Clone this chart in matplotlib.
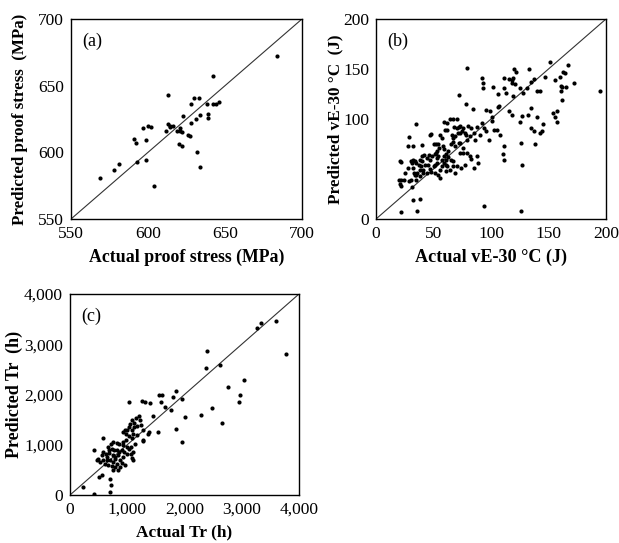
import matplotlib
matplotlib.use("Agg")
import matplotlib.pyplot as plt
import numpy as np

# (a) proof stress, MPa
a_actual = [684, 642, 613, 630, 633, 628, 638, 642, 644, 646, 639, 639, 634, 631, 623, 628,
            597, 600, 602, 613, 614, 616, 614, 612, 619, 621, 621, 622, 626, 627,
            591, 592, 599, 620, 622, 632, 634, 593, 599, 581, 578, 569, 604]
a_pred = [672, 657, 643, 641, 641, 636, 636, 636, 636, 638, 629, 626, 628, 625, 627, 622,
          618, 620, 619, 621, 620, 620, 619, 616, 616, 618, 616, 615, 613, 612,
          610, 607, 609, 606, 605, 600, 589, 593, 594, 591, 587, 581, 575]

# (b) vE-30 C, J
b_actual = [79, 92, 93, 93, 102, 111, 111, 116, 118, 119, 120, 122, 118, 121, 106, 113, 119, 125, 128, 131,
            133, 135, 137, 140, 143, 147, 151, 156, 160, 163, 164, 167, 172, 161, 162, 165, 161, 162, 195,
            72, 78, 84, 96, 99, 101, 106, 107, 116, 118, 127, 132, 135, 140, 157, 156, 157, 154, 145, 135,
            137, 143, 144, 138, 125, 126, 127, 111, 110, 111, 103, 105, 108, 101, 92, 94, 96, 98, 90, 88,
            83, 85, 86,
            64, 67, 70, 68, 70, 72, 73, 75, 76, 77, 78, 79, 82, 80, 73, 71, 69, 67, 66, 62, 60, 62, 59, 56,
            57, 54, 52, 50, 48, 47, 40, 40, 42, 44, 46, 47, 49, 51, 52, 53, 55, 58, 59, 61, 63, 65, 67, 63,
            65, 67, 69, 72, 73, 76, 79, 82, 83, 85, 89, 88, 77, 74, 69, 62, 61, 57, 56, 56, 53, 51, 50, 45,
            43, 41, 39, 38, 36, 35, 33, 32, 31, 30, 32, 34, 35, 37, 38, 40, 28, 25, 22, 21, 20, 22, 24, 30,
            29, 28, 32, 35, 29, 38, 41, 44, 47, 48, 51, 54, 59, 64, 61, 67, 70, 73, 76, 54, 53, 57, 59, 61,
            22, 21, 31, 34, 35, 32, 38, 36, 22, 94, 126]
b_pred = [151, 141, 136, 131, 132, 141, 131, 140, 139, 141, 150, 147, 136, 135, 125, 126, 123, 131, 126, 131,
          150, 137, 140, 128, 128, 142, 157, 139, 142, 147, 146, 154, 136, 133, 132, 132, 128, 119, 128,
          124, 115, 110, 109, 108, 102, 112, 113, 108, 104, 103, 104, 111, 102, 108, 102, 97, 106, 95, 91,
          88, 86, 88, 75, 97, 76, 54, 73, 65, 59, 89, 89, 84, 98, 96, 91, 88, 79, 84, 92,
          91, 86, 79,
          100, 100, 100, 92, 91, 92, 93, 88, 91, 86, 84, 79, 83, 93, 86, 86, 83, 81, 84, 89, 89, 96, 97, 84,
          81, 75, 75, 75, 85, 84, 74, 63, 64, 61, 64, 59, 63, 65, 66, 68, 71, 73, 70, 65, 62, 59, 58, 68,
          75, 77, 73, 76, 76, 71, 66, 63, 60, 51, 56, 63, 54, 51, 46, 53, 54, 53, 49, 41, 56, 54, 53, 54,
          54, 49, 53, 49, 46, 44, 46, 51, 56, 58, 59, 58, 56, 54, 59, 58, 51, 46, 57, 58, 39, 39, 39, 39,
          38, 73, 73, 95, 82, 43, 46, 46, 50, 47, 46, 44, 56, 49, 48, 53, 53, 66, 66, 63, 61, 59, 63, 59,
          33, 35, 32, 44, 39, 19, 20, 8, 7, 13, 8]

# (c) Tr, h
c_actual = [3331, 3267, 3605, 3767, 2401, 2384, 2616, 3041, 2762, 2965, 2948, 2488, 2651, 2285, 2012, 1849,
            1965, 1948, 1860, 1791, 1767, 1657, 1587, 1547, 1605, 1448, 1541, 1378, 1279, 1035, 1256, 1314,
            1395, 1203, 1151, 1221, 1087, 1047, 1122, 1023, 1000, 959, 930, 977, 1076, 1105, 1035, 1076,
            1163, 1267, 1134, 1064, 1029, 1093, 1064, 1105, 1087, 988, 930, 860, 814, 756, 709, 581, 657,
            686, 727, 767, 814, 860, 901, 942, 988, 930, 843, 785, 744, 686, 628, 581, 552, 494, 465, 523,
            581, 640, 698, 756, 814, 872, 901, 959, 872, 785, 756, 727, 843, 552, 512, 419, 698, 715, 698,
            424, 221, 785, 651, 610, 669, 977, 919, 1116, 1163, 1279, 1238, 1366]
c_pred = [3429, 3329, 3462, 2798, 2864, 2532, 2585, 2286, 2153, 2000, 1841, 1741, 1442, 1601, 1555, 1322,
          1050, 1907, 2073, 1954, 1688, 1754, 1841, 1987, 1987, 1582, 1249, 1256, 1090, 1847, 1874, 1841,
          1834, 1575, 1542, 1502, 1488, 1422, 1435, 1356, 1302, 1289, 1256, 1209, 1289, 1209, 1176, 1143,
          1189, 1076, 1023, 957, 924, 857, 811, 691, 731, 957, 990, 1023, 1037, 1057, 1023, 1143, 957,
          904, 924, 890, 890, 857, 890, 857, 824, 758, 791, 758, 791, 837, 811, 857, 791, 724, 691, 658,
          704, 704, 691, 658, 625, 691, 638, 591, 558, 558, 505, 571, 492, 392, 359, 890, 326, 193, 60,
          13, 159, 724, 758, 625, 591, 1103, 1057, 1356, 1369, 1289, 1389, 1223]

# tag, x, y, limits, xticks, yticks, xticklabels, yticklabels, xlabel, ylabel,
# box px [l,t,w,h], xlabel size, ylabel size, ylabel pad
panels = [
    ("(a)", a_actual, a_pred, (550, 700), [550, 600, 650, 700], [550, 600, 650, 700],
     ["550", "600", "650", "700"], ["550", "600", "650", "700"],
     "Actual proof stress (MPa)", "Predicted proof stress  (MPa)", [71, 19, 231, 200], 12.8, 12.2, 7.5),
    ("(b)", b_actual, b_pred, (0, 200), [0, 50, 100, 150, 200], [0, 100, 150, 200],
     ["0", "50", "100", "150", "200"], ["0", "100", "150", "200"],
     "Actual vE-30 \u00b0C (J)", "Predicted vE-30 \u00b0C  (J)", [376, 19, 230, 200], 13.1, 12.3, 0),
    ("(c)", c_actual, c_pred, (0, 4000), [0, 1000, 2000, 3000, 4000], [0, 1000, 2000, 3000, 4000],
     ["0", "1,000", "2,000", "3,000", "4,000"], ["0", "1,000", "2,000", "3,000", "4,000"],
     "Actual Tr (h)", "Predicted Tr  (h)", [70, 294, 229, 201], 12.4, 13, 1),
]

plt.rcParams["font.family"] = ["Liberation Serif", "DejaVu Serif"]
W, H = 619, 543
fig = plt.figure(figsize=(W / 100, H / 100), dpi=100)

for tag, xs, ys, lim, xt, yt, xtl, ytl, xl, yl, box, xls, yls, ypad in panels:
    l, t, w, h = box
    ax = fig.add_axes([l / W, 1 - (t + h) / H, w / W, h / H])
    ax.plot(lim, lim, color="#333333", lw=0.8)
    ax.scatter(xs, ys, s=9, color="black", zorder=3, linewidths=0)
    ax.set_xlim(lim); ax.set_ylim(lim)
    ax.set_xticks(xt, xtl, fontsize=12.5); ax.set_yticks(yt, ytl, fontsize=12.5)
    ax.tick_params(length=0, pad=5)
    ax.set_xlabel(xl, fontsize=xls, fontweight="bold", labelpad=5)
    ax.set_ylabel(yl, fontsize=yls, fontweight="bold", labelpad=ypad)
    for s in ax.spines.values(): s.set_linewidth(1.0)
    ax.text(0.05, 0.93, tag, transform=ax.transAxes, fontsize=13, va="top", ha="left")

fig.savefig("out.png", dpi=100)
